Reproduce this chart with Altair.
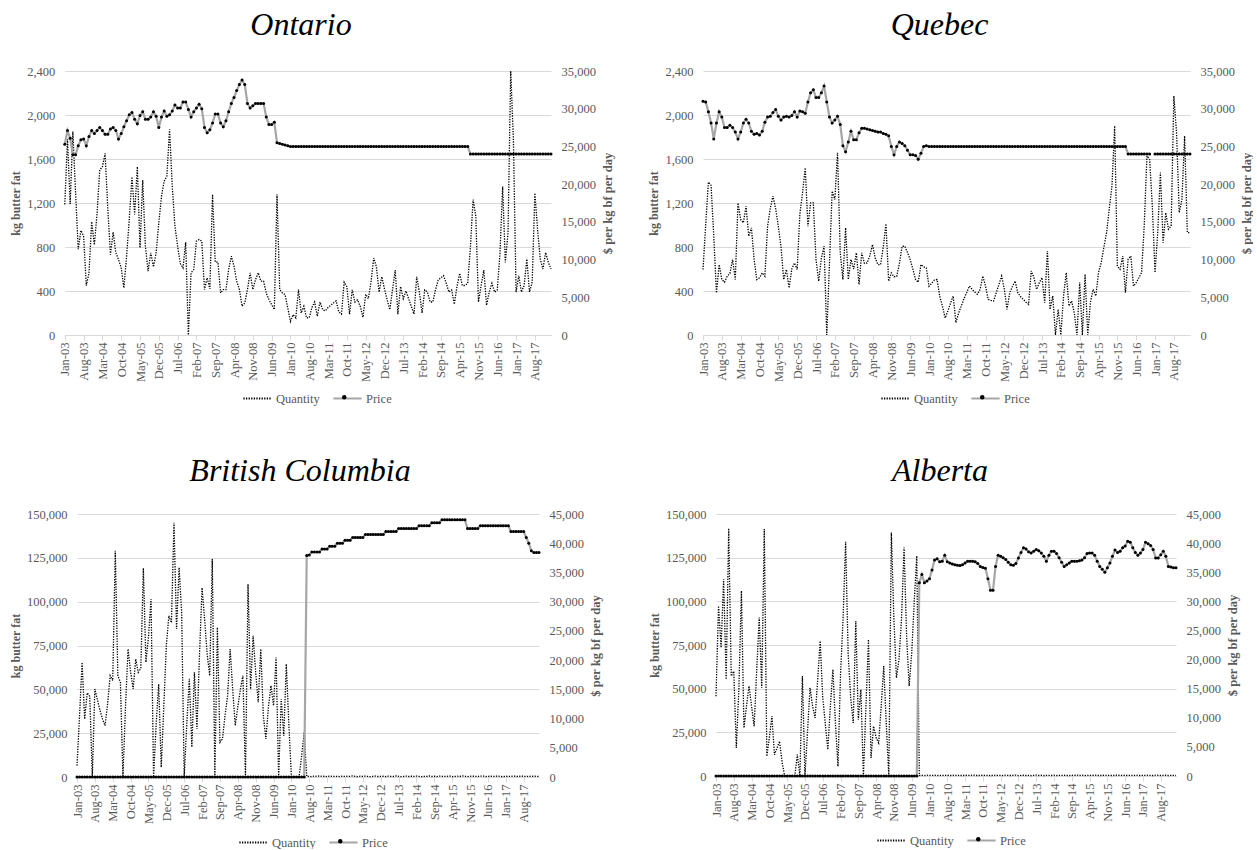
import json
import altair as alt
import pandas as pd

# ---------------- labels ----------------
MONTH_NAMES = ["Jan", "Feb", "Mar", "Apr", "May", "Jun", "Jul", "Aug", "Sep", "Oct", "Nov", "Dec"]
YEARS = ["03", "04", "05", "06", "07", "08", "09", "10", "11", "12", "13", "14", "15", "16", "17", "18"]
months = [f"{m}-{y}" for y in YEARS for m in MONTH_NAMES][:182]   # Jan-03 .. Feb-18

tick_labels = ["Jan-03", "Aug-03", "Mar-04", "Oct-04", "May-05", "Dec-05", "Jul-06", "Feb-07",
               "Sep-07", "Apr-08", "Nov-08", "Jun-09", "Jan-10", "Aug-10", "Mar-11", "Oct-11",
               "May-12", "Dec-12", "Jul-13", "Feb-14", "Sep-14", "Apr-15", "Nov-15", "Jun-16",
               "Jan-17", "Aug-17"]
tick_positions = [months.index(t) for t in tick_labels]

series_names = ["Quantity", "Price"]

qty_ticks_east = [0, 400, 800, 1200, 1600, 2000, 2400]
price_ticks_east = [0, 5000, 10000, 15000, 20000, 25000, 30000, 35000]
qty_ticks_west = [0, 25000, 50000, 75000, 100000, 125000, 150000]
price_ticks_west = [0, 5000, 10000, 15000, 20000, 25000, 30000, 35000, 40000, 45000]

# ---------------- Ontario ----------------
ontario_qty = [
    1187, 1780, 1190, 1850, 1300, 780, 950, 900, 450, 560, 1030, 820,
    1100, 1500, 1530, 1650, 1150, 731, 935, 747, 686, 610, 428, 716,
    1050, 1438, 1096, 1530, 792, 1408, 807, 580, 747, 619, 747, 1020,
    1262, 1399, 1445, 1870, 1354, 989, 807, 650, 610, 844, 0, 565,
    595, 853, 868, 853, 413, 519, 419, 1278, 665, 662, 382, 413,
    413, 595, 716, 625, 489, 413, 261, 291, 413, 565, 413, 504,
    565, 489, 489, 382, 322, 276, 231, 1278, 413, 382, 367, 246,
    124, 185, 155, 413, 200, 261, 155, 158, 250, 300, 170, 300,
    230, 220, 250, 270, 290, 310, 210, 190, 480, 440, 190, 410,
    300, 320, 260, 160, 370, 330, 480, 700, 620, 390, 530, 420,
    320, 230, 410, 590, 190, 440, 330, 400, 330, 260, 190, 530,
    390, 200, 410, 390, 300, 300, 410, 500, 520, 540, 470, 390,
    410, 280, 440, 560, 450, 450, 470, 800, 1230, 1080, 300, 450,
    590, 270, 390, 470, 390, 410, 740, 1350, 660, 930, 2400, 1780,
    390, 540, 390, 450, 690, 390, 480, 1290, 960, 690, 600, 750,
    660, 600,
]
ontario_price = [
    25300, 27100, 26100, 23900, 23900, 25100, 25900, 26000, 25100, 26300, 27100, 26700,
    27100, 27500, 27100, 26600, 26600, 27300, 27500, 27100, 26000, 26700, 27600, 28400,
    29200, 29500, 28600, 28000, 29100, 29600, 28600, 28600, 28900, 29600, 29000, 27500,
    28900, 29700, 29000, 29200, 29700, 30500, 30100, 30100, 30900, 30900, 29900, 28900,
    29600, 30100, 30600, 30000, 27500, 26800, 27200, 28100, 29300, 29300, 28100, 27600,
    28400, 29600, 30700, 31500, 32400, 33200, 33800, 33200, 30700, 30100, 30400, 30700,
    30700, 30700, 30700, 28900, 27900, 27900, 28200, 25500, 25400, 25300, 25200, 25100,
    25000, 25000, 25000, 25000, 25000, 25000, 25000, 25000, 25000, 25000, 25000, 25000,
    25000, 25000, 25000, 25000, 25000, 25000, 25000, 25000, 25000, 25000, 25000, 25000,
    25000, 25000, 25000, 25000, 25000, 25000, 25000, 25000, 25000, 25000, 25000, 25000,
    25000, 25000, 25000, 25000, 25000, 25000, 25000, 25000, 25000, 25000, 25000, 25000,
    25000, 25000, 25000, 25000, 25000, 25000, 25000, 25000, 25000, 25000, 25000, 25000,
    25000, 25000, 25000, 25000, 25000, 25000, 25000, 24000, 24000, 24000, 24000, 24000,
    24000, 24000, 24000, 24000, 24000, 24000, 24000, 24000, 24000, 24000, 24000, 24000,
    24000, 24000, 24000, 24000, 24000, 24000, 24000, 24000, 24000, 24000, 24000, 24000,
    24000, 24000,
]

# ---------------- Quebec ----------------
quebec_qty = [
    595, 1000, 1390, 1360, 900, 382, 640, 504, 480, 534, 560, 686,
    504, 1200, 1050, 1020, 1171, 898, 974, 686, 504, 520, 565, 534,
    989, 1150, 1262, 1150, 989, 800, 504, 595, 428, 600, 655, 595,
    1100, 1293, 1520, 989, 1202, 1202, 686, 489, 700, 807, 0, 650,
    1308, 1232, 1657, 750, 504, 974, 504, 686, 600, 747, 458, 747,
    650, 655, 720, 822, 700, 640, 640, 800, 1011, 489, 565, 530,
    534, 650, 807, 807, 750, 686, 600, 504, 480, 640, 620, 610,
    443, 470, 500, 504, 350, 261, 155, 218, 290, 355, 112, 200,
    264, 330, 385, 445, 415, 390, 370, 415, 536, 445, 324, 315,
    309, 385, 460, 536, 415, 233, 385, 440, 491, 385, 350, 324,
    300, 279, 582, 521, 415, 476, 521, 294, 764, 233, 355, 0,
    233, 0, 355, 567, 264, 309, 200, 0, 476, 0, 552, 0,
    300, 415, 355, 567, 658, 800, 930, 1150, 1355, 1900, 627, 597,
    718, 385, 688, 718, 445, 476, 520, 567, 1000, 1627, 1597, 1173,
    567, 930, 1476, 839, 1112, 961, 991, 2173, 1839, 1112, 1233, 1809,
    930, 930,
]
quebec_price = [
    31000, 30900, 29600, 28100, 26000, 28100, 29600, 28900, 27500, 27500, 27800, 27500,
    26900, 26000, 26900, 28100, 28600, 28100, 27000, 26600, 26700, 26500, 27000, 28200,
    28900, 29000, 29500, 29900, 29000, 28500, 28900, 29000, 28900, 29100, 29600, 28900,
    29700, 29600, 29400, 30900, 32100, 32500, 31500, 31500, 32100, 33000, 30900, 28900,
    28100, 28500, 29000, 27900, 25100, 24300, 25600, 27000, 25900, 25900, 26800, 27400,
    27400, 27300, 27200, 27100, 27000, 26900, 26900, 26700, 26600, 26400, 25000, 23900,
    25000, 25600, 25400, 25100, 24500, 23900, 23900, 23800, 23300, 24100, 25000, 25100,
    25000, 25000, 25000, 25000, 25000, 25000, 25000, 25000, 25000, 25000, 25000, 25000,
    25000, 25000, 25000, 25000, 25000, 25000, 25000, 25000, 25000, 25000, 25000, 25000,
    25000, 25000, 25000, 25000, 25000, 25000, 25000, 25000, 25000, 25000, 25000, 25000,
    25000, 25000, 25000, 25000, 25000, 25000, 25000, 25000, 25000, 25000, 25000, 25000,
    25000, 25000, 25000, 25000, 25000, 25000, 25000, 25000, 25000, 25000, 25000, 25000,
    25000, 25000, 25000, 25000, 25000, 25000, 25000, 25000, 25000, 25000, 25000, 25000,
    25000, 25000, 24000, 24000, 24000, 24000, 24000, 24000, 24000, 24000, 24000, None,
    24000, 24000, 24000, 24000, 24000, 24000, 24000, 24000, 24000, 24000, 24000, 24000,
    24000, 24000,
]

# ---------------- British Columbia ----------------
bc_qty = [
    6500, 35000, 65400, 33000, 48000, 46000, 0, 50200, 44000, 38000, 33000, 29300,
    42000, 57800, 55000, 129000, 57800, 54000, 0, 40000, 73000, 60000, 50200, 67300,
    59700, 62000, 119200, 65400, 80000, 101500, 0, 30000, 53000, 5500, 40000, 75000,
    92000, 88000, 145000, 84400, 119500, 94000, 0, 30000, 56000, 17000, 59700, 27400,
    70000, 108000, 90000, 70000, 57800, 124300, 0, 85300, 19800, 21700, 35000, 46400,
    73000, 50000, 29300, 40000, 50000, 57800, 0, 110000, 50200, 80600, 59700, 42600,
    73000, 35000, 21700, 40000, 52100, 40700, 68200, 0, 44500, 23600, 64400, 30000,
    0, 0, 0, 0, 12000, 25500, 300, 400, 250, 500, 350, 600,
    300, 450, 200, 550, 300, 400, 350, 250, 500, 300, 450, 350,
    600, 300, 250, 450, 350, 500, 300, 200, 400, 550, 300, 350,
    450, 250, 500, 350, 300, 600, 400, 250, 350, 500, 300, 450,
    350, 550, 300, 250, 400, 350, 600, 300, 450, 250, 500, 350,
    300, 400, 550, 250, 350, 450, 300, 600, 350, 250, 400, 500,
    350, 300, 450, 600, 250, 350, 500, 300, 400, 550, 300, 250,
    450, 350, 300, 500, 400, 250, 600, 350, 300, 450, 350, 500,
    300, 400,
]
bc_price = [
    0, 0, 0, 0, 0, 0, 0, 0, 0, 0, 0, 0,
    0, 0, 0, 0, 0, 0, 0, 0, 0, 0, 0, 0,
    0, 0, 0, 0, 0, 0, 0, 0, 0, 0, 0, 0,
    0, 0, 0, 0, 0, 0, 0, 0, 0, 0, 0, 0,
    0, 0, 0, 0, 0, 0, 0, 0, 0, 0, 0, 0,
    0, 0, 0, 0, 0, 0, 0, 0, 0, 0, 0, 0,
    0, 0, 0, 0, 0, 0, 0, 0, 0, 0, 0, 0,
    0, 0, 0, 0, 0, 0, 37900, 38000, 38500, 38500, 38500, 38500,
    39000, 39000, 39000, 39500, 39500, 39500, 40000, 40000, 40000, 40500, 40500, 40500,
    41000, 41000, 41000, 41000, 41000, 41500, 41500, 41500, 41500, 41500, 41500, 41500,
    41500, 42000, 42000, 42000, 42000, 42000, 42500, 42500, 42500, 42500, 42500, 42500,
    42500, 42500, 43000, 43000, 43000, 43000, 43000, 43500, 43500, 43500, 43500, 44000,
    44000, 44000, 44000, 44000, 44000, 44000, 44000, 44000, 44000, 42500, 42500, 42500,
    42500, 42500, 43000, 43000, 43000, 43000, 43000, 43000, 43000, 43000, 43000, 43000,
    43000, 43000, 42000, 42000, 42000, 42000, 42000, 42000, 41000, 40000, 38700, 38400,
    38400, 38400,
]

# ---------------- Alberta ----------------
alberta_qty = [
    45700, 97400, 73500, 112700, 55300, 141800, 57200, 60000, 16000, 50000, 106000, 27500,
    40000, 51500, 40000, 28500, 60000, 90700, 50500, 141400, 11300, 22000, 34200, 12200,
    16000, 19900, 8000, 0, 0, 0, 0, 0, 12200, 0, 57200, 0,
    25000, 50500, 40000, 33300, 55000, 77300, 45000, 30000, 15100, 40000, 61000, 30000,
    5500, 58200, 90000, 134100, 70000, 45000, 30400, 88800, 32300, 49500, 0, 40000,
    78200, 10300, 28500, 22000, 18900, 40000, 62900, 30000, 0, 139400, 90000, 56200,
    66800, 90000, 130800, 80000, 51500, 70000, 100000, 126000, 300, 400, 250, 450,
    350, 300, 500, 250, 400, 350, 300, 450, 250, 500, 350, 300,
    400, 250, 450, 350, 300, 500, 400, 250, 350, 450, 300, 400,
    250, 350, 500, 300, 400, 250, 450, 350, 300, 400, 500, 250,
    350, 450, 300, 400, 250, 350, 500, 300, 450, 250, 400, 350,
    300, 500, 250, 400, 350, 450, 300, 250, 400, 350, 500, 300,
    450, 250, 350, 400, 300, 500, 350, 250, 450, 300, 400, 350,
    250, 400, 500, 300, 350, 450, 250, 400, 300, 350, 500, 250,
    400, 300, 450, 350, 250, 500, 400, 300, 350, 450, 250, 400,
    350, 300,
]
alberta_price = [
    0, 0, 0, 0, 0, 0, 0, 0, 0, 0, 0, 0,
    0, 0, 0, 0, 0, 0, 0, 0, 0, 0, 0, 0,
    0, 0, 0, 0, 0, 0, 0, 0, 0, 0, 0, 0,
    0, 0, 0, 0, 0, 0, 0, 0, 0, 0, 0, 0,
    0, 0, 0, 0, 0, 0, 0, 0, 0, 0, 0, 0,
    0, 0, 0, 0, 0, 0, 0, 0, 0, 0, 0, 0,
    0, 0, 0, 0, 0, 0, 0, 0, 33200, 34600, 33200, 33500,
    33900, 35400, 37100, 37300, 36800, 36900, 37900, 36800, 36600, 36400, 36300, 36200,
    36150, 36300, 36600, 36900, 36900, 36900, 36800, 36500, 36000, 35800, 35700, 33900,
    31900, 31900, 36000, 37900, 37750, 37500, 37200, 36700, 36300, 36200, 36500, 37450,
    38400, 39200, 39000, 38500, 38300, 38600, 38900, 38700, 38300, 37750, 36900, 37900,
    38600, 38600, 38200, 37500, 36700, 36000, 36300, 36600, 36900, 36900, 36900, 36950,
    37100, 37500, 38200, 38300, 38300, 37900, 36900, 36000, 35500, 35000, 35750, 36600,
    37750, 38800, 38400, 38600, 39200, 39500, 40300, 40150, 39200, 38400, 37900, 38300,
    38900, 40150, 39900, 39600, 38900, 37450, 37450, 38000, 38600, 37750, 36000, 35900,
    35750, 35750,
]

# ---------------- styling ----------------
FONT = "Liberation Serif"
GRID = "#d9d9d9"
TXT = "#595959"
QTY_COLOR = "#000000"
PRICE_COLOR = "#a6a6a6"
MARKER_COLOR = "#000000"
MONTH_LABEL_EXPR = json.dumps(months) + "[round(datum.value)]"


def panel(name, qty, price, q_ticks, p_ticks, w, h, leg_x, leg_y, title_dx, title_off,
          extra_left=0):
    assert len(qty) == len(months), (name, len(qty))
    assert len(price) == len(months), (name, len(price))
    df = pd.DataFrame({"idx": list(range(len(months))), "month": months, "qty": qty, "price": price})

    # extra_left lets the plotted range start left of the view origin (y axis moved along)
    x_scale = alt.Scale(domain=[0, len(months) - 1], range=[-extra_left, w], nice=False, zero=False)
    xenc = alt.X(
        "idx:Q",
        scale=x_scale,
        axis=alt.Axis(
            values=tick_positions, labelExpr=MONTH_LABEL_EXPR, labelAngle=270,
            labelFont=FONT, labelFontSize=12.5, labelColor=TXT, domainColor=GRID,
            domainWidth=1, tickColor=GRID, tickSize=5, labelPadding=2, grid=False,
            title=None, labelOverlap=False, labelBound=False, labelFlush=False,
        ),
    )
    color_scale = alt.Scale(domain=series_names, range=[QTY_COLOR, PRICE_COLOR])
    dash_scale = alt.Scale(domain=series_names, range=[[1.3, 1.3], [1, 0]])
    legend = alt.Legend(
        orient="none", legendX=leg_x, legendY=leg_y, direction="horizontal", title=None,
        symbolType="stroke", symbolSize=800, symbolStrokeWidth=1.8,
        labelFont=FONT, labelFontSize=12.5, labelColor=TXT, columnPadding=9, labelOffset=3,
    )
    # marker drawn on the middle of the "Price" legend line (no label of its own)
    dot_legend = alt.Legend(
        orient="none", legendX=leg_x + 96, legendY=leg_y + 8, direction="horizontal", title=None,
        symbolType="circle", symbolSize=20, symbolStrokeWidth=0, labelExpr="''",
        labelFont=FONT, labelFontSize=12.5,
    )

    base = alt.Chart(df)
    q_line = base.transform_calculate(series="'Quantity'").mark_line(strokeWidth=1.3).encode(
        x=xenc,
        y=alt.Y(
            "qty:Q",
            scale=alt.Scale(domain=[q_ticks[0], q_ticks[-1]], nice=False, zero=True),
            axis=alt.Axis(
                orient="left", values=q_ticks, format=",d", grid=True, gridColor=GRID,
                domain=False, ticks=False, labelPadding=10, labelFont=FONT, labelFontSize=12.5,
                labelColor=TXT, titleFont=FONT, titleFontSize=12, titleFontWeight="bold",
                titleColor=TXT, titlePadding=4, offset=extra_left,
            ),
            title="kg butter fat",
        ),
        color=alt.Color("series:N", scale=color_scale, legend=legend),
        strokeDash=alt.StrokeDash("series:N", scale=dash_scale, legend=legend),
    )

    p_y = alt.Y(
        "price:Q",
        scale=alt.Scale(domain=[p_ticks[0], p_ticks[-1]], nice=False, zero=True),
        axis=alt.Axis(
            orient="right", values=p_ticks, format=",d", grid=False, domain=False,
            ticks=False, labelPadding=10, labelFont=FONT, labelFontSize=12.5, labelColor=TXT,
            titleFont=FONT, titleFontSize=12.5, titleFontWeight="bold", titleColor=TXT,
            titlePadding=6, titleAngle=270, titleBaseline="top",
        ),
        title="$ per kg bf per day",
    )
    p_line = base.transform_calculate(series="'Price'").mark_line(strokeWidth=2.2).encode(
        x=xenc,
        y=p_y,
        color=alt.Color("series:N", scale=color_scale, legend=legend),
        strokeDash=alt.StrokeDash("series:N", scale=dash_scale, legend=legend),
    )
    p_pts = base.transform_calculate(marker="'Price'").mark_circle(size=9, opacity=1).encode(
        x=xenc,
        y=p_y,
        fill=alt.Fill("marker:N", scale=alt.Scale(domain=["Price"], range=[MARKER_COLOR]),
                      legend=dot_legend),
    )
    price_layer = alt.layer(p_line, p_pts)

    return alt.layer(q_line, price_layer).resolve_scale(y="independent").properties(
        width=w,
        height=h,
        title=alt.TitleParams(
            name, font=FONT, fontSize=32, fontStyle="italic", fontWeight="normal",
            color="#000000", anchor="middle", frame="group", baseline="alphabetic",
            offset=title_off, dx=title_dx,
        ),
    )


ont = panel("Ontario", ontario_qty, ontario_price, qty_ticks_east, price_ticks_east,
            474, 264, 165, 312, -13, -2, extra_left=12.2)
que = panel("Quebec", quebec_qty, quebec_price, qty_ticks_east, price_ticks_east,
            487, 264, 177, 312, -7, -2)
bc = panel("British Columbia", bc_qty, bc_price, qty_ticks_west, price_ticks_west,
           462, 263, 161, 313, -8, -5)
alb = panel("Alberta", alberta_qty, alberta_price, qty_ticks_west, price_ticks_west,
            460, 262, 160, 311, -6, -5)

RES = dict(color="independent", strokeDash="independent", fill="independent")
top = alt.hconcat(ont, que, spacing=33).resolve_scale(**RES)
bottom = alt.hconcat(bc, alb, spacing=46).resolve_scale(**RES)

chart = (
    alt.vconcat(top, bottom, spacing=50)
    .resolve_scale(**RES)
    .properties(padding={"left": 9, "top": 9, "right": 0, "bottom": 0}, background="white")
    .configure_view(stroke=None)
)

chart.save("out.html", embed_options={"renderer": "svg", "actions": False})
